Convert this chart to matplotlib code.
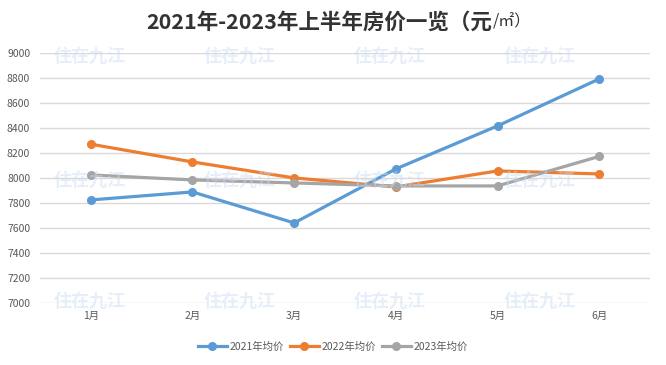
import matplotlib.pyplot as plt

plt.rcParams['font.family'] = ['Noto Sans CJK SC', 'DejaVu Sans']

months = ["1月", "2月", "3月", "4月", "5月", "6月"]
price_2021 = [7824, 7888, 7640, 8072, 8416, 8792]
price_2022 = [8270, 8128, 8000, 7928, 8056, 8032]
price_2023 = [8024, 7984, 7960, 7936, 7936, 8172]
y_ticks = list(range(7000, 9001, 200))

fig = plt.figure(figsize=(6.66, 3.65), dpi=100)
ax = fig.add_axes([0.06, 0.170, 0.916, 0.685])

# faint watermark
for wx in [0.135, 0.36, 0.585, 0.81]:
    for wy in [0.845, 0.505, 0.175]:
        fig.text(wx, wy, "住在九江", color="#c9dcf2", alpha=0.45, fontsize=13,
                 fontweight="bold", ha="center", va="center", zorder=0)

x = range(len(months))
series = [("2021年均价", price_2021, "#5B9BD5"),
          ("2022年均价", price_2022, "#ED7D31"),
          ("2023年均价", price_2023, "#A5A5A5")]
for name, vals, col in series:
    ax.plot(x, vals, color=col, lw=2.3, marker="o", ms=5.5, label=name, zorder=3)

ax.set_xlim(-0.5, 5.5)
ax.set_ylim(7000, 9000)
ax.set_yticks(y_ticks)
ax.set_xticks(list(x))
ax.set_xticklabels(months)
ax.grid(axis="y", color="#D9D9D9", lw=1)
ax.set_axisbelow(True)
for s in ax.spines.values():
    s.set_visible(False)
ax.tick_params(length=0, labelsize=7.5, colors="#595959", pad=6)
ax.tick_params(axis="y", pad=7)
ax.patch.set_alpha(0)

leg = fig.legend(loc="center", bbox_to_anchor=(0.5, 0.05), ncol=3, frameon=False,
                 fontsize=7.5, labelcolor="#595959", handlelength=2.8,
                 columnspacing=0.5, handletextpad=0.3)

t = fig.text(0.48, 0.94, "2021年-2023年上半年房价一览（元", fontsize=15.5,
             fontweight="bold", color="#333333", ha="center", va="center")
ax.annotate("/㎡）", xy=(1, 0.1), xycoords=t, fontsize=11.5, color="#333333",
            va="bottom", ha="left", annotation_clip=False)

fig.savefig("out.png", dpi=100)
